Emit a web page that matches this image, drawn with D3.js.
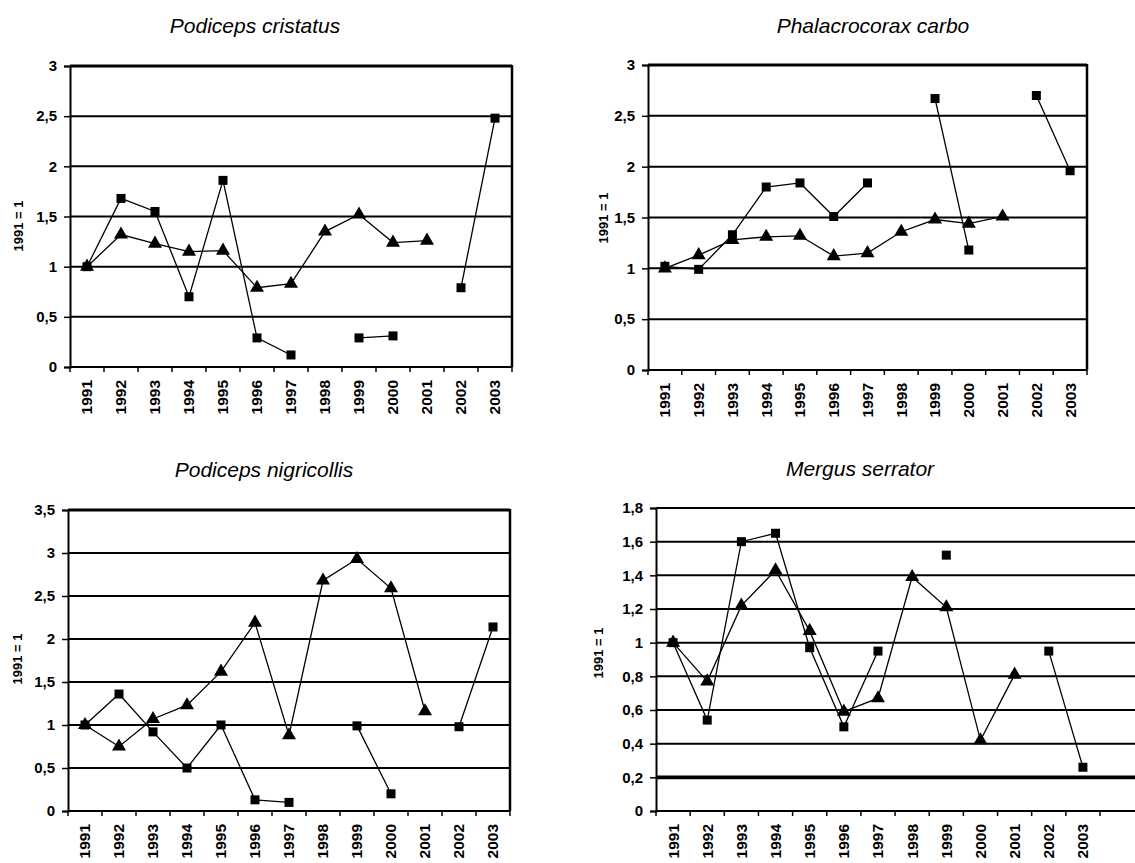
<!DOCTYPE html>
<html>
<head>
<meta charset="utf-8">
<script src="https://cdn.jsdelivr.net/npm/d3@7"></script>
<style>
  html, body { margin: 0; padding: 0; background: #fff; }
  svg { display: block; font-family: "Liberation Sans", Arial, sans-serif; }
  .tick text { font-weight: bold; }
</style>
</head>
<body>
<svg id="chart" width="1135" height="863"></svg>
<script>
const years = ['1991','1992','1993','1994','1995','1996','1997','1998','1999','2000','2001','2002','2003'];

// Podiceps cristatus
const cristatusSquares   = [1.0, 1.68, 1.55, 0.70, 1.86, 0.29, 0.12, null, 0.29, 0.31, null, 0.79, 2.48];
const cristatusTriangles = [1.0, 1.32, 1.23, 1.15, 1.16, 0.79, 0.83, 1.35, 1.52, 1.24, 1.26, null, null];
const cristatusTicks = [0, 0.5, 1, 1.5, 2, 2.5, 3];

// Phalacrocorax carbo
const carboSquares   = [1.02, 0.99, 1.33, 1.80, 1.84, 1.51, 1.84, null, 2.67, 1.18, null, 2.70, 1.96];
const carboTriangles = [1.0, 1.13, 1.28, 1.31, 1.32, 1.12, 1.15, 1.36, 1.48, 1.44, 1.51, null, null];
const carboTicks = [0, 0.5, 1, 1.5, 2, 2.5, 3];

// Podiceps nigricollis
const nigricollisSquares   = [1.0, 1.36, 0.92, 0.50, 1.0, 0.13, 0.10, null, 0.99, 0.20, null, 0.98, 2.14];
const nigricollisTriangles = [1.0, 0.75, 1.07, 1.23, 1.62, 2.19, 0.88, 2.68, 2.93, 2.59, 1.16, null, null];
const nigricollisTicks = [0, 0.5, 1, 1.5, 2, 2.5, 3, 3.5];

// Mergus serrator
const serratorSquares   = [1.0, 0.54, 1.60, 1.65, 0.97, 0.50, 0.95, null, 1.52, null, null, 0.95, 0.26];
const serratorTriangles = [1.0, 0.77, 1.22, 1.43, 1.07, 0.59, 0.67, 1.39, 1.21, 0.42, 0.81, null, null];
const serratorTicks = [0, 0.2, 0.4, 0.6, 0.8, 1, 1.2, 1.4, 1.6, 1.8];

const panels = [
  { title: 'Podiceps cristatus', sq: cristatusSquares, tri: cristatusTriangles, ticks: cristatusTicks,
    left: 70, right: 512, top: 66, bottom: 367, gridRight: 512, border: true, thick: null,
    titleX: 255, titleY: 33, labX: 18, labY: 226 },
  { title: 'Phalacrocorax carbo', sq: carboSquares, tri: carboTriangles, ticks: carboTicks,
    left: 648, right: 1087, top: 65, bottom: 370, gridRight: 1087, border: true, thick: null,
    titleX: 873, titleY: 33, labX: 603, labY: 218 },
  { title: 'Podiceps nigricollis', sq: nigricollisSquares, tri: nigricollisTriangles, ticks: nigricollisTicks,
    left: 68, right: 510, top: 510, bottom: 811, gridRight: 510, border: true, thick: null,
    titleX: 264, titleY: 477, labX: 17, labY: 659 },
  { title: 'Mergus serrator', sq: serratorSquares, tri: serratorTriangles, ticks: serratorTicks,
    left: 656, right: 1100, top: 508, bottom: 811, gridRight: 1135, border: false, thick: 0.2,
    titleX: 860, titleY: 476, labX: 598, labY: 653 }
];

const svg = d3.select('#chart');
const fmt = d => String(d).replace('.', ',');

panels.forEach(p => {
  const g = svg.append('g');
  const yMax = d3.max(p.ticks);

  const x = d3.scaleBand().domain(years).range([p.left, p.right]).padding(0);
  const y = d3.scaleLinear().domain([0, yMax]).range([p.bottom, p.top]);
  const cx = d => x(d) + x.bandwidth() / 2;

  // title
  g.append('text')
    .attr('x', p.titleX).attr('y', p.titleY)
    .attr('text-anchor', 'middle')
    .attr('font-size', 21)
    .attr('font-style', 'italic')
    .text(p.title);

  // y label
  g.append('text')
    .attr('transform', `translate(${p.labX},${p.labY}) rotate(-90)`)
    .attr('text-anchor', 'middle')
    .attr('dy', '0.35em')
    .attr('font-size', 13)
    .attr('font-weight', 'bold')
    .text('1991 = 1');

  // grid lines
  g.selectAll('line.grid')
    .data(p.ticks.filter(t => t > 0))
    .enter()
    .append('line')
    .attr('class', 'grid')
    .attr('x1', p.left).attr('x2', p.gridRight)
    .attr('y1', d => y(d)).attr('y2', d => y(d))
    .attr('stroke', '#000')
    .attr('stroke-width', d => (d === yMax && p.border) ? 3.2 : d === p.thick ? 3.8 : 2);

  if (p.border) {
    g.append('line')
      .attr('x1', p.right).attr('x2', p.right)
      .attr('y1', y(yMax) - 1).attr('y2', p.bottom)
      .attr('stroke', '#000').attr('stroke-width', 2.5);
  }

  // y axis
  const yAxis = g.append('g')
    .attr('transform', `translate(${p.left},0)`)
    .call(d3.axisLeft(y).tickValues(p.ticks).tickFormat(fmt).tickSize(6).tickPadding(7));
  yAxis.select('.domain').attr('stroke-width', 2);
  yAxis.selectAll('.tick line').attr('stroke-width', 1.5);
  yAxis.selectAll('.tick text').attr('font-size', 15).attr('fill', '#000');

  // x axis
  const xAxis = g.append('g')
    .attr('transform', `translate(0,${p.bottom})`)
    .call(d3.axisBottom(x).tickSize(0).tickPadding(0));
  xAxis.select('.domain').remove();
  g.append('line')
    .attr('x1', p.left).attr('x2', p.gridRight)
    .attr('y1', p.bottom).attr('y2', p.bottom)
    .attr('stroke', '#000').attr('stroke-width', 2);
  xAxis.selectAll('.tick text')
    .attr('font-size', 15.5)
    .attr('fill', '#000')
    .attr('text-anchor', 'end')
    .attr('transform', 'translate(0,13) rotate(-90)')
    .attr('x', 0).attr('y', 0).attr('dy', '0.35em');
  const bounds = years.map(d => x(d)).concat([p.right]);
  g.selectAll('line.xtick')
    .data(bounds)
    .enter()
    .append('line')
    .attr('class', 'xtick')
    .attr('x1', d => d).attr('x2', d => d)
    .attr('y1', p.bottom).attr('y2', p.bottom + 5)
    .attr('stroke', '#000').attr('stroke-width', 1.5);

  const line = d3.line()
    .defined(d => d.v !== null)
    .x(d => cx(d.year))
    .y(d => y(d.v));

  const triData = years.map((year, i) => ({ year, v: p.tri[i] }));
  const sqData = years.map((year, i) => ({ year, v: p.sq[i] }));

  g.append('path').datum(triData)
    .attr('d', line).attr('fill', 'none').attr('stroke', '#000').attr('stroke-width', 1.3);
  g.append('path').datum(sqData)
    .attr('d', line).attr('fill', 'none').attr('stroke', '#000').attr('stroke-width', 1.3);

  const tri = d3.symbol().type(d3.symbolTriangle).size(85);
  g.selectAll('path.tri')
    .data(triData.filter(d => d.v !== null))
    .enter()
    .append('path')
    .attr('class', 'tri')
    .attr('d', tri)
    .attr('transform', d => `translate(${cx(d.year)},${y(d.v)})`)
    .attr('fill', '#000');

  g.selectAll('rect.sq')
    .data(sqData.filter(d => d.v !== null))
    .enter()
    .append('rect')
    .attr('class', 'sq')
    .attr('x', d => cx(d.year) - 4.5)
    .attr('y', d => y(d.v) - 4.5)
    .attr('width', 9).attr('height', 9)
    .attr('fill', '#000');
});
</script>
</body>
</html>
